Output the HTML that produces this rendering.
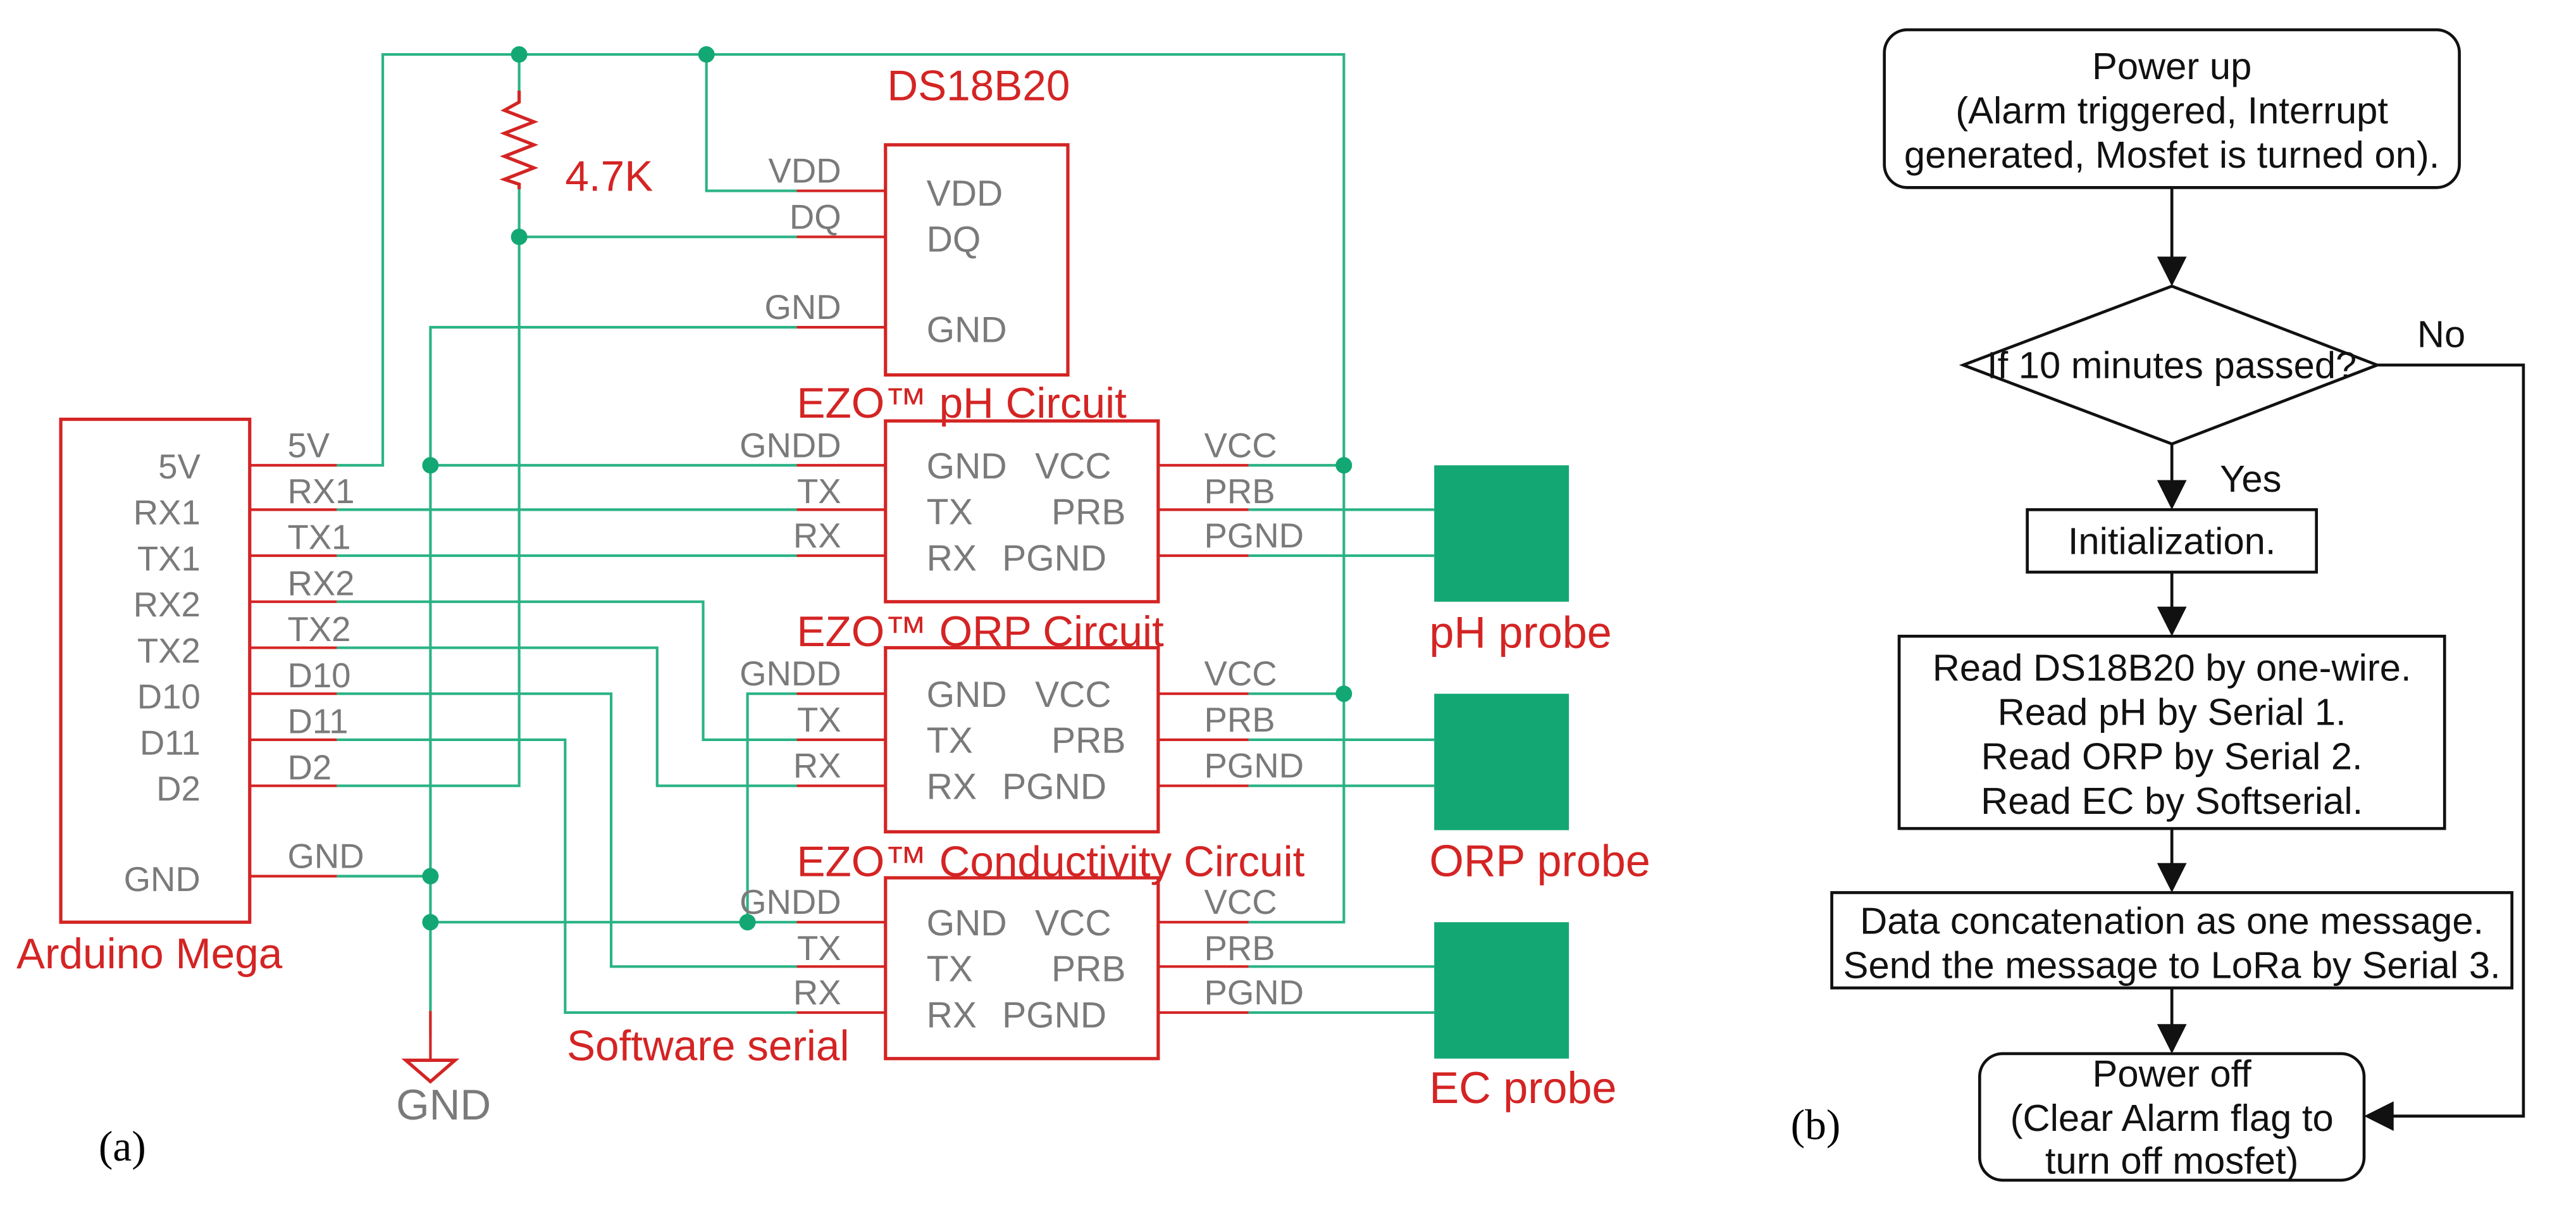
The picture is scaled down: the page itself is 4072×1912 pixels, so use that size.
<!DOCTYPE html>
<html><head><style>html,body{margin:0;padding:0;background:#fff}svg{display:block}</style></head>
<body>
<svg width="4072" height="1912" viewBox="0 0 1568 736" xmlns="http://www.w3.org/2000/svg" font-family="Liberation Sans, sans-serif">
<rect width="1568" height="736" fill="#fff"/>
<g fill="none" stroke="#2bb385" stroke-width="1.6">
<polyline points="205,283 233,283 233,33 818,33 818,561 760,561"/>
<line x1="818" y1="283" x2="760" y2="283"/><line x1="818" y1="422" x2="760" y2="422"/>
<polyline points="316,33 316,55"/><polyline points="316,115 316,478 205,478"/>
<line x1="316" y1="144" x2="485" y2="144"/>
<polyline points="430,33 430,116 485,116"/>
<polyline points="485,199 262,199 262,630"/>
<line x1="262" y1="283" x2="485" y2="283"/>
<line x1="205" y1="310" x2="485" y2="310"/>
<line x1="205" y1="338" x2="485" y2="338"/>
<polyline points="205,366 428,366 428,450 485,450"/>
<polyline points="205,394 400,394 400,478 485,478"/>
<polyline points="205,422 372,422 372,588 485,588"/>
<polyline points="205,450 344,450 344,616 485,616"/>
<line x1="205" y1="533" x2="262" y2="533"/>
<line x1="262" y1="561" x2="485" y2="561"/>
<polyline points="485,422 455,422 455,561"/>
<line x1="760" y1="310" x2="873" y2="310"/><line x1="760" y1="338" x2="873" y2="338"/>
<line x1="760" y1="450" x2="873" y2="450"/><line x1="760" y1="478" x2="873" y2="478"/>
<line x1="760" y1="588" x2="873" y2="588"/><line x1="760" y1="616" x2="873" y2="616"/>
</g>
<g fill="#13a873">
<circle cx="316" cy="33" r="5"/><circle cx="430" cy="33" r="5"/><circle cx="316" cy="144" r="5"/>
<circle cx="262" cy="283" r="5"/><circle cx="262" cy="533" r="5"/><circle cx="262" cy="561" r="5"/>
<circle cx="455" cy="561" r="5"/><circle cx="818" cy="283" r="5"/><circle cx="818" cy="422" r="5"/>
<rect x="873" y="283" width="82" height="83"/><rect x="873" y="422" width="82" height="83"/><rect x="873" y="561" width="82" height="83"/>
</g>
<g fill="none" stroke="#d42424" stroke-width="2">
<rect x="37" y="255" width="115" height="306"/>
<rect x="539" y="88" width="111" height="140"/>
<rect x="539" y="256" width="166" height="110"/>
<rect x="539" y="394" width="166" height="112"/>
<rect x="539" y="534" width="166" height="110"/>
<polyline points="316,55 316,62 307,67 325,74 307,81 325,88 307,95 325,102 307,109 316,112 316,115"/>
</g>
<g stroke="#d42424" stroke-width="1.6">
<line x1="152" y1="283" x2="205" y2="283"/><line x1="152" y1="310" x2="205" y2="310"/><line x1="152" y1="338" x2="205" y2="338"/>
<line x1="152" y1="366" x2="205" y2="366"/><line x1="152" y1="394" x2="205" y2="394"/><line x1="152" y1="422" x2="205" y2="422"/>
<line x1="152" y1="450" x2="205" y2="450"/><line x1="152" y1="478" x2="205" y2="478"/><line x1="152" y1="533" x2="205" y2="533"/>
<line x1="485" y1="116" x2="539" y2="116"/><line x1="485" y1="144" x2="539" y2="144"/><line x1="485" y1="199" x2="539" y2="199"/>
<line x1="485" y1="283" x2="539" y2="283"/><line x1="485" y1="310" x2="539" y2="310"/><line x1="485" y1="338" x2="539" y2="338"/>
<line x1="485" y1="422" x2="539" y2="422"/><line x1="485" y1="450" x2="539" y2="450"/><line x1="485" y1="478" x2="539" y2="478"/>
<line x1="485" y1="561" x2="539" y2="561"/><line x1="485" y1="588" x2="539" y2="588"/><line x1="485" y1="616" x2="539" y2="616"/>
<line x1="705" y1="283" x2="760" y2="283"/><line x1="705" y1="310" x2="760" y2="310"/><line x1="705" y1="338" x2="760" y2="338"/>
<line x1="705" y1="422" x2="760" y2="422"/><line x1="705" y1="450" x2="760" y2="450"/><line x1="705" y1="478" x2="760" y2="478"/>
<line x1="705" y1="561" x2="760" y2="561"/><line x1="705" y1="588" x2="760" y2="588"/><line x1="705" y1="616" x2="760" y2="616"/>
<line x1="262" y1="615" x2="262" y2="645"/>
</g>
<polygon points="247,645 277,645 262,658" fill="none" stroke="#d42424" stroke-width="2"/>
<g fill="#d42424" font-size="26">
<text x="540" y="61">DS18B20</text>
<text x="344" y="116">4.7K</text>
<text x="485" y="254">EZO™ pH Circuit</text>
<text x="485" y="393">EZO™ ORP Circuit</text>
<text x="485" y="533">EZO™ Conductivity Circuit</text>
<text x="10" y="589">Arduino Mega</text>
<text x="345" y="645">Software serial</text>
<g font-size="27">
<text x="870" y="394">pH probe</text>
<text x="870" y="533">ORP probe</text>
<text x="870" y="671">EC probe</text>
</g>
</g>
<g fill="#7a7a7a" font-size="21">
<g text-anchor="end">
<text x="122" y="291">5V</text><text x="122" y="319">RX1</text><text x="122" y="347">TX1</text><text x="122" y="375">RX2</text>
<text x="122" y="403">TX2</text><text x="122" y="431">D10</text><text x="122" y="459">D11</text><text x="122" y="487">D2</text>
<text x="122" y="542">GND</text>
<text x="512" y="111">VDD</text><text x="512" y="139">DQ</text><text x="512" y="194">GND</text>
<text x="512" y="278">GNDD</text><text x="512" y="306">TX</text><text x="512" y="333">RX</text>
<text x="512" y="417">GNDD</text><text x="512" y="445">TX</text><text x="512" y="473">RX</text>
<text x="512" y="556">GNDD</text><text x="512" y="584">TX</text><text x="512" y="611">RX</text>
</g>
<text x="175" y="278">5V</text><text x="175" y="306">RX1</text><text x="175" y="334">TX1</text><text x="175" y="362">RX2</text>
<text x="175" y="390">TX2</text><text x="175" y="418">D10</text><text x="175" y="446">D11</text><text x="175" y="474">D2</text>
<text x="175" y="528">GND</text>
<text x="733" y="278">VCC</text><text x="733" y="306">PRB</text><text x="733" y="333">PGND</text>
<text x="733" y="417">VCC</text><text x="733" y="445">PRB</text><text x="733" y="473">PGND</text>
<text x="733" y="556">VCC</text><text x="733" y="584">PRB</text><text x="733" y="611">PGND</text>
<g font-size="22">
<text x="564" y="125">VDD</text><text x="564" y="153">DQ</text><text x="564" y="208">GND</text>
<text x="564" y="291">GND</text><text x="630" y="291">VCC</text><text x="564" y="319">TX</text><text x="640" y="319">PRB</text><text x="564" y="347">RX</text><text x="610" y="347">PGND</text>
<text x="564" y="430">GND</text><text x="630" y="430">VCC</text><text x="564" y="458">TX</text><text x="640" y="458">PRB</text><text x="564" y="486">RX</text><text x="610" y="486">PGND</text>
<text x="564" y="569">GND</text><text x="630" y="569">VCC</text><text x="564" y="597">TX</text><text x="640" y="597">PRB</text><text x="564" y="625">RX</text><text x="610" y="625">PGND</text>
</g>
<text x="270" y="681" font-size="26" text-anchor="middle">GND</text>
</g>
<text x="60" y="706" font-family="Liberation Serif, serif" font-size="26">(a)</text>
<text x="1090" y="693" font-family="Liberation Serif, serif" font-size="26">(b)</text>
<g fill="none" stroke="#111" stroke-width="1.8">
<rect x="1147" y="18" width="350" height="96" rx="14"/>
<polygon points="1322,174 1447,222 1322,270 1195,222"/>
<rect x="1234" y="310" width="176" height="38"/>
<rect x="1156" y="387" width="332" height="117"/>
<rect x="1115" y="543" width="414" height="58"/>
<rect x="1205" y="641" width="234" height="77" rx="14"/>
<line x1="1322" y1="114" x2="1322" y2="166"/>
<line x1="1322" y1="270" x2="1322" y2="302"/>
<line x1="1322" y1="348" x2="1322" y2="379"/>
<line x1="1322" y1="504" x2="1322" y2="535"/>
<line x1="1322" y1="601" x2="1322" y2="633"/>
<polyline points="1447,222 1536,222 1536,679 1447,679"/>
</g>
<g fill="#111">
<polygon points="1313,156 1331,156 1322,174"/>
<polygon points="1313,292 1331,292 1322,310"/>
<polygon points="1313,369 1331,369 1322,387"/>
<polygon points="1313,525 1331,525 1322,543"/>
<polygon points="1313,623 1331,623 1322,641"/>
<polygon points="1439,679 1457,670 1457,688"/>
</g>
<g fill="#111" font-size="23" text-anchor="middle">
<text x="1322" y="48">Power up</text>
<text x="1322" y="75">(Alarm triggered, Interrupt</text>
<text x="1322" y="102">generated, Mosfet is turned on).</text>
<text x="1322" y="230">If 10 minutes passed?</text>
<text x="1486" y="211">No</text>
<text x="1370" y="299">Yes</text>
<text x="1322" y="337">Initialization.</text>
<text x="1322" y="414">Read DS18B20 by one-wire.</text>
<text x="1322" y="441">Read pH by Serial 1.</text>
<text x="1322" y="468">Read ORP by Serial 2.</text>
<text x="1322" y="495">Read EC by Softserial.</text>
<text x="1322" y="568">Data concatenation as one message.</text>
<text x="1322" y="595">Send the message to LoRa by Serial 3.</text>
<text x="1322" y="661">Power off</text>
<text x="1322" y="688">(Clear Alarm flag to</text>
<text x="1322" y="714">turn off mosfet)</text>
</g>
</svg>
</body></html>
